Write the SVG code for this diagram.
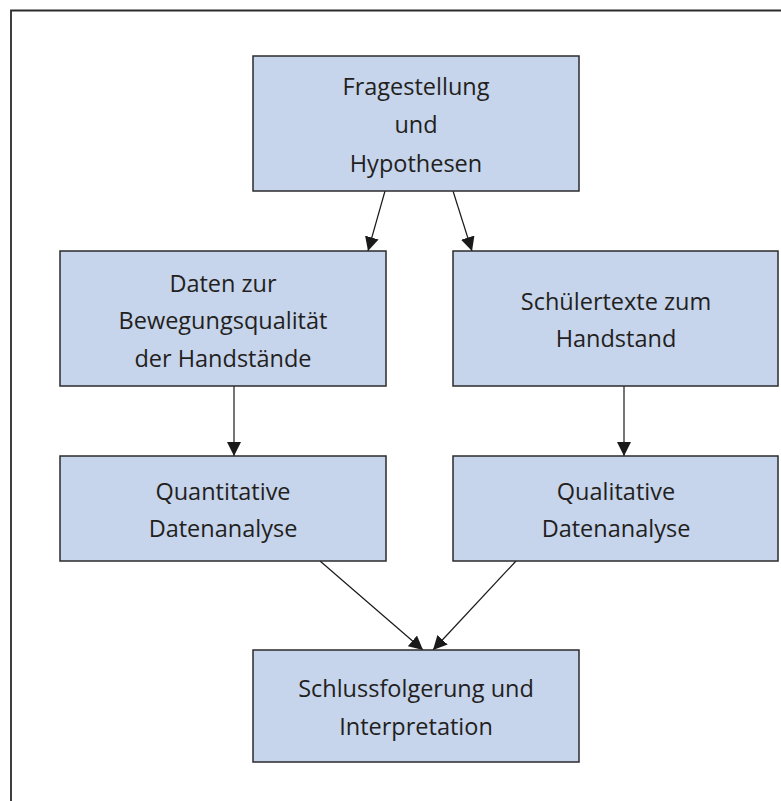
<svg xmlns="http://www.w3.org/2000/svg" width="781" height="801" viewBox="0 0 781 801">
<style>
.box{fill:#c6d4ec;stroke:#2b2b2b;stroke-width:1.5}
.t{font-family:"Open Sans","Noto Sans",sans-serif;font-size:23.5px;fill:#231f20;text-anchor:middle}
.c{stroke:#1a1a1a;stroke-width:1.2;fill:none;marker-end:url(#ah)}
</style>
<defs>
<marker id="ah" viewBox="0 0 10 10" refX="10" refY="5" markerWidth="14" markerHeight="14" markerUnits="userSpaceOnUse" orient="auto">
<path d="M0,0 L10,5 L0,10 z" fill="#1a1a1a"/>
</marker>
</defs>
<rect x="0" y="0" width="781" height="801" fill="#fff"/>
<path d="M11,801 V10.5 H781" fill="none" stroke="#2b2b2b" stroke-width="1.8"/>
<g id="connectors">
<line class="c" x1="385" y1="191" x2="368" y2="251"/>
<line class="c" x1="453" y1="191" x2="472" y2="251"/>
<line class="c" x1="234" y1="386" x2="234" y2="456"/>
<line class="c" x1="624" y1="386" x2="624" y2="456"/>
<line class="c" x1="320" y1="561" x2="423" y2="650"/>
<line class="c" x1="516" y1="561" x2="433" y2="650"/>
</g>
<g id="n1"><rect class="box" x="253" y="56" width="326" height="135"/>
<text class="t" x="416" y="95">Fragestellung</text><text class="t" x="416" y="133">und</text><text class="t" x="416" y="172">Hypothesen</text></g>
<g id="n2"><rect class="box" x="60" y="251" width="326" height="135"/>
<text class="t" x="223" y="292">Daten zur</text><text class="t" x="223" y="329">Bewegungsqualität</text><text class="t" x="223" y="367">der Handstände</text></g>
<g id="n3"><rect class="box" x="453" y="251" width="325" height="135"/>
<text class="t" x="616" y="310">Schülertexte zum</text><text class="t" x="616" y="347">Handstand</text></g>
<g id="n4"><rect class="box" x="60" y="456" width="326" height="105"/>
<text class="t" x="223" y="500">Quantitative</text><text class="t" x="223" y="537">Datenanalyse</text></g>
<g id="n5"><rect class="box" x="453" y="456" width="325" height="105"/>
<text class="t" x="616" y="500">Qualitative</text><text class="t" x="616" y="537">Datenanalyse</text></g>
<g id="n6"><rect class="box" x="253" y="650" width="326" height="112"/>
<text class="t" x="416" y="697">Schlussfolgerung und</text><text class="t" x="416" y="735">Interpretation</text></g>
</svg>
